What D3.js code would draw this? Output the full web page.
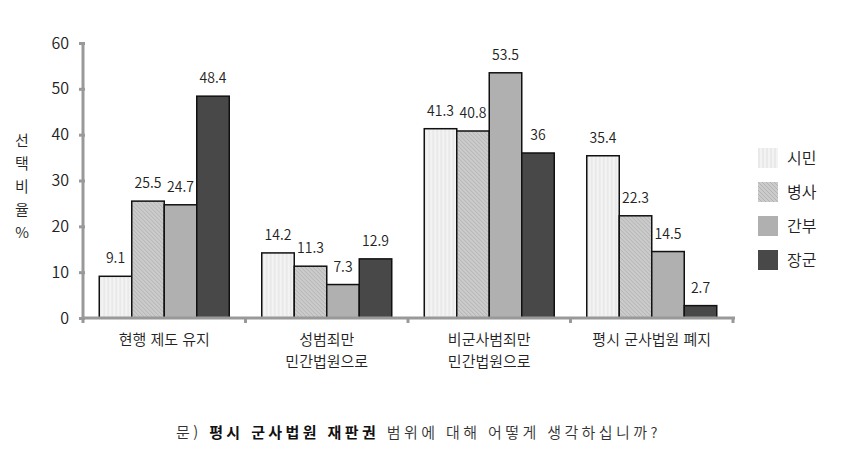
<!DOCTYPE html>
<html lang="ko">
<head>
<meta charset="UTF-8">
<title>평시 군사법원 재판권</title>
<script src="https://cdn.jsdelivr.net/npm/d3@7"></script>
<style>
    body { margin: 0; background: #fff; }
    text { font-family: "Noto Sans CJK KR", "Noto Sans", sans-serif; font-weight: 350; fill: #222; }
</style>
</head>
<body>
<div id="chart"></div>
<script>
    const categories = [["현행 제도 유지"], ["성범죄만", "민간법원으로"], ["비군사범죄만", "민간법원으로"], ["평시 군사법원 폐지"]]
    const seriesNames = ["시민", "병사", "간부", "장군"]
    const citizen = [9.1, 14.2, 41.3, 35.4]
    const soldier = [25.5, 11.3, 40.8, 22.3]
    const officer = [24.7, 7.3, 53.5, 14.5]
    const general = [48.4, 12.9, 36, 2.7]
    const yTicks = [0, 10, 20, 30, 40, 50, 60]

    const seriesValues = [citizen, soldier, officer, general]
    const fills = ["url(#pCitizen)", "url(#pSoldier)", "#b0b0b0", "#484848"]

    const width = 844, height = 456

    const svg = d3.select("#chart").append("svg")
        .attr("width", width)
        .attr("height", height)

    // patterns
    const defs = svg.append("defs")
    const p1 = defs.append("pattern").attr("id", "pCitizen")
        .attr("patternUnits", "userSpaceOnUse").attr("width", 4).attr("height", 4)
    p1.append("rect").attr("width", 4).attr("height", 4).attr("fill", "#f3f3f3")
    p1.append("line").attr("x1", 1).attr("x2", 1).attr("y1", 0).attr("y2", 4)
        .attr("stroke", "#e0e0e0").attr("stroke-width", 1)
    const p2 = defs.append("pattern").attr("id", "pSoldier")
        .attr("patternUnits", "userSpaceOnUse").attr("width", 4).attr("height", 4)
    p2.append("rect").attr("width", 4).attr("height", 4).attr("fill", "#cbcbcb")
    p2.append("path").attr("d", "M0,0 L4,4 M-1,3 L1,5 M3,-1 L5,1")
        .attr("stroke", "#adadad").attr("stroke-width", 0.8)

    const x0 = d3.scaleBand()
        .domain(d3.range(categories.length))
        .range([83, 733])
        .paddingInner(0.2)
        .paddingOuter(0.1)
    const x1 = d3.scaleBand()
        .domain(d3.range(seriesNames.length))
        .range([0, x0.bandwidth()])
    const y = d3.scaleLinear().domain([0, 60]).range([318, 43])

    // bars
    const groups = svg.append("g")
        .selectAll("g")
        .data(categories)
        .join("g")
        .attr("transform", (d, i) => `translate(${x0(i)},0)`)

    groups.selectAll("rect")
        .data((d, i) => seriesValues.map((s, k) => ({ k, v: s[i] })))
        .join("rect")
        .attr("x", d => x1(d.k))
        .attr("y", d => y(d.v))
        .attr("width", x1.bandwidth())
        .attr("height", d => y(0) - y(d.v))
        .attr("fill", d => fills[d.k])
        .attr("stroke", "#111")
        .attr("stroke-width", 1.5)

    groups.selectAll("text.val")
        .data((d, i) => seriesValues.map((s, k) => ({ k, v: s[i] })))
        .join("text")
        .attr("class", "val")
        .attr("x", d => x1(d.k) + x1.bandwidth() / 2)
        .attr("y", d => y(d.v) - 13)
        .attr("text-anchor", "middle")
        .style("font-size", "14px")
        .text(d => d.v)

    // y axis
    svg.append("g")
        .attr("transform", "translate(83,0)")
        .call(d3.axisLeft(y).tickValues(yTicks).tickSize(4).tickPadding(10))
        .call(g => g.select(".domain").attr("stroke", "#999").attr("stroke-width", 3)
            .attr("d", `M0,${y(60)}V${y(0) + 2}`))
        .call(g => g.selectAll(".tick line").attr("stroke", "#999").attr("stroke-width", 3)
            .attr("x1", 2))
        .call(g => g.selectAll(".tick text").style("font-size", "16px")
            .style("font-family", "'Noto Sans CJK KR', sans-serif").style("font-weight", 350).attr("fill", "#222"))

    // x axis
    const xAxis = svg.append("g").attr("transform", `translate(0,${y(0)})`)
    xAxis.append("line")
        .attr("x1", 83).attr("x2", 735)
        .attr("stroke", "#999").attr("stroke-width", 3)
    const bounds = d3.range(categories.length + 1).map(i => 83 + i * x0.step())
    xAxis.selectAll("line.tick")
        .data(bounds)
        .join("line")
        .attr("class", "tick")
        .attr("x1", d => d).attr("x2", d => d)
        .attr("y1", -1).attr("y2", 5)
        .attr("stroke", "#999").attr("stroke-width", 3)

    xAxis.selectAll("text")
        .data(categories)
        .join("text")
        .attr("x", (d, i) => x0(i) + x0.bandwidth() / 2)
        .attr("y", 27)
        .attr("text-anchor", "middle")
        .style("font-size", "15px")
        .selectAll("tspan")
        .data(d => d)
        .join("tspan")
        .attr("x", function () { return this.parentNode.getAttribute("x") })
        .attr("dy", (d, i) => i === 0 ? 0 : 22)
        .text(d => d)

    // y axis title, stacked characters
    svg.append("g")
        .selectAll("text")
        .data(["선", "택", "비", "율", "%"])
        .join("text")
        .attr("x", 22)
        .attr("y", (d, i) => 146 + i * 23)
        .attr("text-anchor", "middle")
        .style("font-size", "15px")
        .text(d => d)

    // legend
    const legend = svg.append("g")
        .selectAll("g")
        .data(seriesNames)
        .join("g")
        .attr("transform", (d, i) => `translate(758,${148 + i * 34})`)
    legend.append("rect")
        .attr("width", 20).attr("height", 20)
        .attr("fill", (d, i) => fills[i])
    legend.append("text")
        .attr("x", 29).attr("y", 16)
        .style("font-size", "16px")
        .text(d => d)

    // caption
    const cap = svg.append("text")
        .attr("x", 176).attr("y", 438)
        .style("font-size", "15px")
        .style("letter-spacing", "3.4px")
        .style("fill", "#333")
    cap.append("tspan").text("문) ")
    cap.append("tspan").style("font-weight", "bold").style("fill", "#111").text("평시 군사법원 재판권 ")
    cap.append("tspan").text("범위에 대해 어떻게 생각하십니까?")
</script>
</body>
</html>
